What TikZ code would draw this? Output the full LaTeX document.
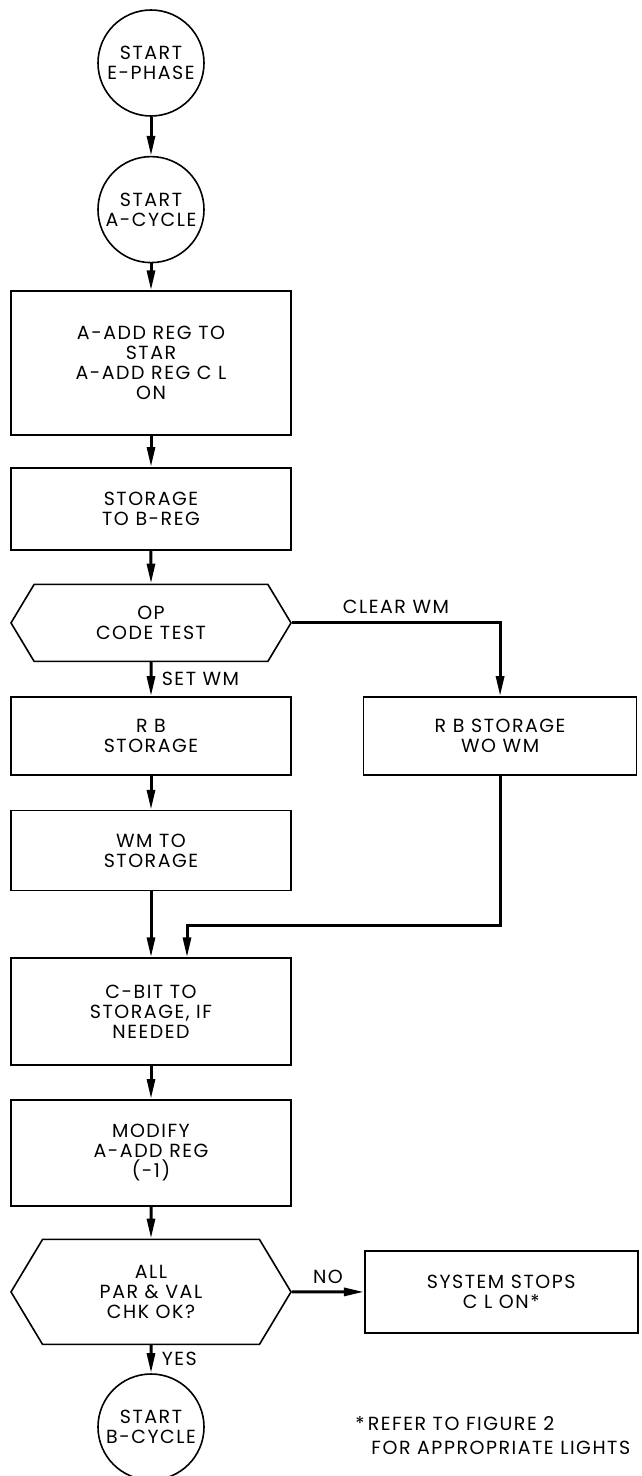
\documentclass[tikz,border=0pt]{standalone}
\usepackage{fontspec}
\setmainfont{Poppins}[LetterSpace=8]
\usetikzlibrary{arrows.meta,positioning,shapes.symbols}

\begin{document}
\begin{tikzpicture}[
    x=1pt, y=1pt,
    >={Triangle[length=20pt,width=8pt]},
    node distance=33pt,
    every node/.style={font=\fontsize{19}{20}\selectfont},
    term/.style={draw, circle, line width=1.6pt, minimum size=106pt,
                 inner sep=0pt, align=center},
    proc/.style={draw, line width=1.6pt, minimum width=280pt, align=center},
    test/.style={draw, signal, signal to=east and west,
                 signal pointer angle=118, line width=1.6pt,
                 minimum width=280pt, align=center},
    flow/.style={->, line width=3pt}
]
    \useasboundingbox (0,0) rectangle (641,-1476);

    % main column
    \node[term] (ephase) at (151,-63) {START\\E-PHASE};
    \node[term, below=39pt of ephase] (acycle) {START\\A-CYCLE};
    \node[proc, minimum height=144pt, below=27pt of acycle]
        (star) {A-ADD REG TO\\STAR\\A-ADD REG C L\\ON};
    \node[proc, minimum height=82pt, below=31pt of star]
        (breg) {STORAGE\\TO B-REG};
    \node[test, minimum height=77pt, below=of breg]
        (optest) {OP\\CODE TEST};
    \node[proc, minimum height=78pt, below=34pt of optest]
        (rbs) {R B\\STORAGE};
    \node[proc, minimum height=80pt, below=34pt of rbs]
        (wmst) {WM TO\\STORAGE};
    \node[proc, minimum height=107pt, below=66pt of wmst]
        (cbit) {C-BIT TO\\STORAGE, IF\\NEEDED};
    \node[proc, minimum height=106pt, below=of cbit]
        (modify) {MODIFY\\A-ADD REG\\(-1)};
    \node[test, minimum height=105pt, below=32pt of modify]
        (chk) {ALL\\PAR \& VAL\\CHK OK?};
    \node[term, below=28pt of chk] (bcycle) {START\\B-CYCLE};

    % right column
    \node[proc, minimum height=78pt, minimum width=273pt, right=71pt of rbs]
        (rbwo) {R B STORAGE\\WO WM};
    \node[proc, minimum height=82pt, minimum width=273pt, right=72pt of chk]
        (stop) {SYSTEM STOPS\\C L ON*};
    \node[anchor=base west, align=left,
          font=\fontsize{19}{24}\selectfont]
        (note) at ([xshift=-12pt, yshift=-121pt]stop.south west)
        {*\,REFER TO FIGURE 2\\\hspace*{16pt}FOR APPROPRIATE LIGHTS};

    % flow lines
    \draw[flow] (ephase) -- (acycle);
    \draw[flow] (acycle) -- (star);
    \draw[flow] (star) -- (breg);
    \draw[flow] (breg) -- (optest);
    \draw[flow] (optest) -- node[right, xshift=6pt] {SET WM} (rbs);
    \draw[flow] (optest.east) -| node[pos=0.25, above, yshift=4pt] {CLEAR WM}
        (rbwo.north);
    \draw[flow] (rbs) -- (wmst);
    \draw[flow] (wmst) -- (cbit);
    \coordinate[above right=32pt and 36pt of cbit.north] (merge);
    \draw[flow] (rbwo.south) |- (merge) -- (merge |- cbit.north);
    \draw[flow] (cbit) -- (modify);
    \draw[flow] (modify) -- (chk);
    \draw[flow] (chk) -- node[above, yshift=3pt] {NO} (stop);
    \draw[flow] (chk) -- node[right, xshift=6pt] {YES} (bcycle);
\end{tikzpicture}
\end{document}
